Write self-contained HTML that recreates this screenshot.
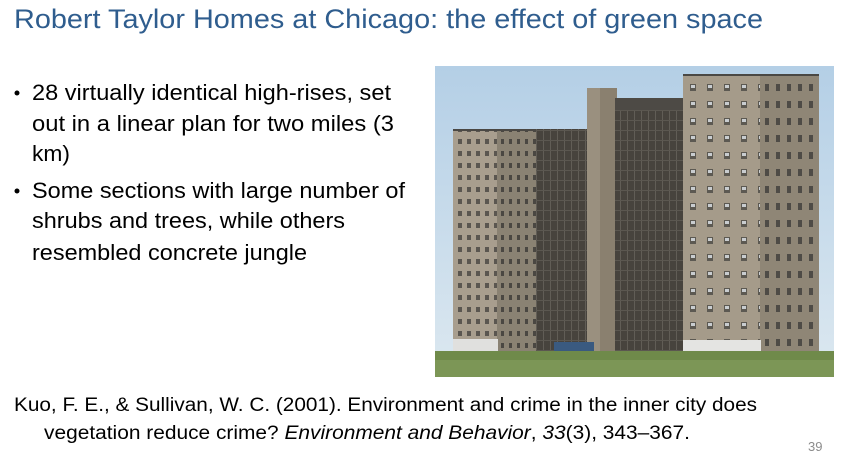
<!DOCTYPE html>
<html><head><meta charset="utf-8"><style>
html,body{margin:0;padding:0;background:#fff;}
svg{display:block;}
text{font-family:"Liberation Sans",sans-serif;}
</style></head><body>
<svg width="846" height="462" viewBox="0 0 846 462">
<defs>
<pattern id="winL" x="456" y="136" width="9" height="12" patternUnits="userSpaceOnUse"><rect x="2" y="3" width="4" height="5" fill="#5a5650"/></pattern>
<pattern id="winS" x="499" y="136" width="8" height="12" patternUnits="userSpaceOnUse"><rect x="2" y="3" width="3" height="5" fill="#4a4742"/></pattern>
<pattern id="winR" x="686" y="80" width="17" height="17" patternUnits="userSpaceOnUse"><rect x="4" y="4" width="6" height="7" fill="#5c5952"/><rect x="5" y="5" width="4" height="3" fill="#c9cdd0"/></pattern>
<pattern id="winRS" x="762" y="80" width="11" height="17" patternUnits="userSpaceOnUse"><rect x="3" y="4" width="4" height="7" fill="#4e4b46"/></pattern>
<pattern id="glass" x="536" y="100" width="7" height="10" patternUnits="userSpaceOnUse"><rect width="7" height="10" fill="#47433d"/><rect x="0" y="0" width="1" height="10" fill="#615d56"/><rect x="0" y="0" width="7" height="1" fill="#5b5750"/></pattern>
<linearGradient id="sky" x1="0" y1="0" x2="0" y2="1"><stop offset="0" stop-color="#b4cfe6"/><stop offset="1" stop-color="#dce8f0"/></linearGradient>
</defs>
<text x="14" y="28" font-size="27" fill="#2f5d8e" textLength="749" lengthAdjust="spacingAndGlyphs">Robert Taylor Homes at Chicago: the effect of green space</text>
<g font-size="22" fill="#000">
<circle cx="17" cy="93" r="2.5" fill="#000"/>
<text x="32" y="100" textLength="359" lengthAdjust="spacingAndGlyphs">28 virtually identical high-rises, set</text>
<text x="32" y="131" textLength="362" lengthAdjust="spacingAndGlyphs">out in a linear plan for two miles (3</text>
<text x="32" y="161" textLength="38" lengthAdjust="spacingAndGlyphs">km)</text>
<circle cx="17" cy="191" r="2.5" fill="#000"/>
<text x="32" y="198" textLength="373" lengthAdjust="spacingAndGlyphs">Some sections with large number of</text>
<text x="32" y="228" textLength="313" lengthAdjust="spacingAndGlyphs">shrubs and trees, while others</text>
<text x="32" y="260" textLength="275" lengthAdjust="spacingAndGlyphs">resembled concrete jungle</text>
</g>
<g>
<rect x="435" y="66" width="399" height="311" fill="url(#sky)"/>
<rect x="453" y="131" width="45" height="220" fill="#a89e8e"/>
<rect x="453" y="131" width="45" height="220" fill="url(#winL)"/>
<rect x="497" y="131" width="40" height="220" fill="#8a8273"/>
<rect x="497" y="131" width="40" height="220" fill="url(#winS)"/>
<rect x="453" y="129" width="84" height="2" fill="#4a4844"/>
<rect x="536" y="129" width="52" height="222" fill="url(#glass)"/>
<rect x="587" y="88" width="30" height="265" fill="#9a907f"/>
<rect x="600" y="88" width="17" height="265" fill="#8a806f"/>
<rect x="615" y="98" width="70" height="14" fill="#4d4a45"/>
<rect x="615" y="110" width="70" height="243" fill="url(#glass)"/>
<rect x="683" y="76" width="78" height="281" fill="#a59b8a"/>
<rect x="683" y="76" width="78" height="281" fill="url(#winR)"/>
<rect x="760" y="76" width="59" height="281" fill="#8f8676"/>
<rect x="760" y="76" width="59" height="281" fill="url(#winRS)"/>
<rect x="683" y="74" width="136" height="2" fill="#4a4844"/>
<rect x="683" y="340" width="78" height="17" fill="#e4e4e2"/>
<rect x="453" y="339" width="45" height="12" fill="#e0e0de"/>
<rect x="554" y="342" width="40" height="10" fill="#3a5a80"/>
<rect x="435" y="351" width="399" height="26" fill="#6f8a4a"/>
<rect x="435" y="360" width="399" height="17" fill="#7c9656"/>
</g>
<g font-size="19" fill="#000">
<text x="14" y="411" textLength="743" lengthAdjust="spacingAndGlyphs">Kuo, F. E., &amp; Sullivan, W. C. (2001). Environment and crime in the inner city does</text>
<text x="44" y="439" textLength="646" lengthAdjust="spacingAndGlyphs">vegetation reduce crime? <tspan font-style="italic">Environment and Behavior</tspan>, <tspan font-style="italic">33</tspan>(3), 343–367.</text>
</g>
<text x="808" y="451" font-size="13" fill="#8c8c8c">39</text>
</svg>
</body></html>
